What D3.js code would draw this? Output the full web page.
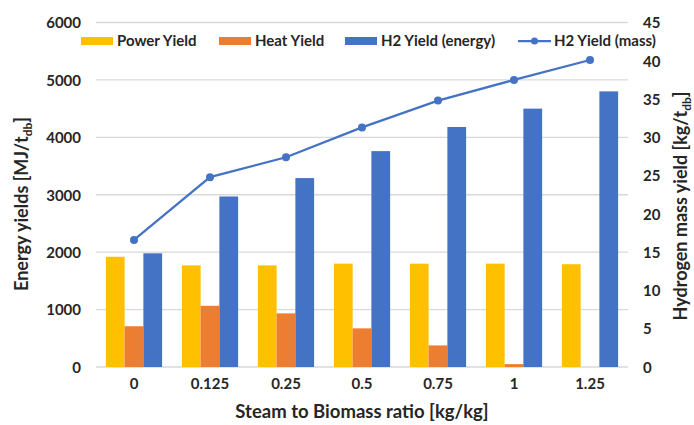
<!DOCTYPE html>
<html><head><meta charset="utf-8">
<script src="https://cdn.jsdelivr.net/npm/d3@7"></script>
<style>
body{margin:0;background:#fff;}
text{font-family:Lato,"Open Sans",sans-serif;font-weight:bold;fill:#262626;}
</style></head>
<body><svg id="c" width="694" height="425"></svg>
<script>
const categories = ["0","0.125","0.25","0.5","0.75","1","1.25"];
const powerYield = [1920,1770,1770,1800,1800,1800,1790];
const heatYield = [710,1066,934,673,376,50,0];
const h2Energy = [1980,2970,3290,3760,4180,4500,4800];
const h2Mass = [16.6,24.8,27.4,31.3,34.8,37.5,40.1];
const leftTicks = [0,1000,2000,3000,4000,5000,6000];
const rightTicks = [0,5,10,15,20,25,30,35,40,45];
const seriesNames = ["Power Yield","Heat Yield","H2 Yield (energy)","H2 Yield (mass)"];
const colors = ["#FFC000","#ED7D31","#4472C4","#4472C4"];

const svg = d3.select("#c");
const m = {l:96, r:628, t:22.5, b:367};
const x = d3.scaleBand().domain(categories).range([m.l,m.r]).paddingInner(0.26).paddingOuter(0.13);
const y = d3.scaleLinear().domain([0,6000]).range([m.b,m.t]);
const y2 = d3.scaleLinear().domain([0,45]).range([m.b,m.t]);
const sub = d3.scaleBand().domain([0,1,2]).range([0,x.bandwidth()]);

// gridlines
svg.append("g").selectAll("line").data(leftTicks).join("line")
  .attr("x1",m.l).attr("x2",m.r).attr("y1",d=>y(d)).attr("y2",d=>y(d))
  .attr("stroke","#d9d9d9").attr("stroke-width",1.3);

// left axis
const la = svg.append("g").attr("transform",`translate(${m.l},0)`)
  .call(d3.axisLeft(y).tickValues(leftTicks).tickFormat(d3.format("d")).tickSize(0).tickPadding(15));
la.select(".domain").remove();
la.selectAll("text").style("font-size","15px").attr("dy","0.35em");

// right axis
const ra = svg.append("g").attr("transform",`translate(${m.r},0)`)
  .call(d3.axisRight(y2).tickValues(rightTicks).tickSize(0).tickPadding(15));
ra.select(".domain").remove();
ra.selectAll("text").style("font-size","15px").attr("dy","0.35em");

// x axis
const xa = svg.append("g").attr("transform",`translate(0,${m.b})`)
  .call(d3.axisBottom(x).tickSize(0).tickPadding(11));
xa.select(".domain").remove();
xa.selectAll("text").style("font-size","15px");

// bars
const series = [powerYield, heatYield, h2Energy];
series.forEach((vals,si)=>{
  svg.append("g").selectAll("rect").data(vals).join("rect")
    .attr("x",(d,i)=>x(categories[i])+sub(si))
    .attr("width",sub.bandwidth())
    .attr("y",d=>y(d))
    .attr("height",d=>y(0)-y(d))
    .attr("fill",colors[si]);
});

// line
const line = d3.line().x((d,i)=>x(categories[i])+x.bandwidth()/2).y(d=>y2(d));
svg.append("path").datum(h2Mass).attr("d",line).attr("fill","none")
  .attr("stroke",colors[3]).attr("stroke-width",2.25);
svg.append("g").selectAll("circle").data(h2Mass).join("circle")
  .attr("cx",(d,i)=>x(categories[i])+x.bandwidth()/2).attr("cy",d=>y2(d))
  .attr("r",4).attr("fill",colors[3]);

// legend
const legY = 41;
const legX = [81,219,345,518];
seriesNames.forEach((n,i)=>{
  const g = svg.append("g");
  if(i<3){
    g.append("rect").attr("x",legX[i]).attr("y",legY-4).attr("width",32).attr("height",8).attr("fill",colors[i]);
  } else {
    g.append("line").attr("x1",legX[i]).attr("x2",legX[i]+33).attr("y1",legY).attr("y2",legY)
      .attr("stroke",colors[i]).attr("stroke-width",2.25);
    g.append("circle").attr("cx",legX[i]+16.5).attr("cy",legY).attr("r",3.5).attr("fill",colors[i]);
  }
  g.append("text").attr("x",legX[i]+36).attr("y",legY).attr("dy","0.35em")
    .style("font-size","15px").text(n);
});

// axis titles
svg.append("text").attr("x",362).attr("y",412).attr("dy","0.35em").attr("text-anchor","middle")
  .style("font-size","18.5px").text("Steam to Biomass ratio [kg/kg]");

const lt = svg.append("text").attr("transform","translate(28,204) rotate(-90)")
  .attr("text-anchor","middle").style("font-size","18px");
lt.append("tspan").text("Energy yields [MJ/t");
lt.append("tspan").attr("dy",4).style("font-size","12px").text("db");
lt.append("tspan").attr("dy",-4).text("]");

const rt = svg.append("text").attr("transform","translate(687,206) rotate(-90)")
  .attr("text-anchor","middle").style("font-size","18px");
rt.append("tspan").text("Hydrogen mass yield [kg/t");
rt.append("tspan").attr("dy",4).style("font-size","12px").text("db");
rt.append("tspan").attr("dy",-4).text("]");
</script></body></html>
